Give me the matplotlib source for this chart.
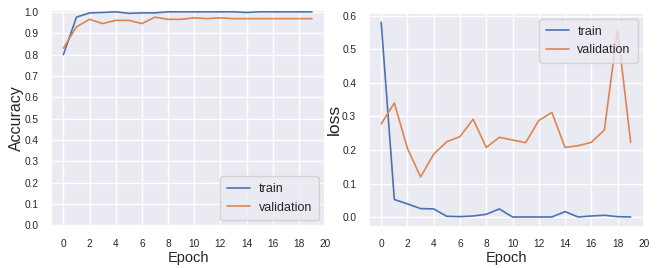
import matplotlib
matplotlib.use("Agg")
import matplotlib.pyplot as plt
import seaborn as sns

sns.set_theme(style="darkgrid")
plt.rcParams['font.family'] = ['Liberation Sans', 'DejaVu Sans']

epochs = list(range(20))
acc_train = [0.80, 0.975, 0.995, 0.997, 1.0, 0.993, 0.995, 0.995, 1.0, 1.0,
             1.0, 1.0, 1.0, 1.0, 0.997, 1.0, 1.0, 1.0, 1.0, 1.0]
acc_val = [0.83, 0.93, 0.965, 0.945, 0.96, 0.96, 0.945, 0.975, 0.965, 0.965,
           0.972, 0.968, 0.972, 0.968, 0.968, 0.968, 0.968, 0.968, 0.968, 0.968]
loss_train = [0.58, 0.053, 0.04, 0.026, 0.025, 0.003, 0.002, 0.004, 0.009, 0.025,
              0.001, 0.001, 0.001, 0.001, 0.017, 0.001, 0.004, 0.006, 0.002, 0.001]
loss_val = [0.278, 0.34, 0.205, 0.12, 0.188, 0.225, 0.24, 0.292, 0.208, 0.238,
            0.23, 0.222, 0.288, 0.312, 0.208, 0.213, 0.223, 0.26, 0.558, 0.223]
labels = ["train", "validation"]
xticks = list(range(0, 21, 2))
acc_yticks = [i / 10 for i in range(11)]

fig = plt.figure(figsize=(6.62, 2.68), dpi=100)

legend_kw = dict(fontsize=9, handlelength=1.8, borderpad=0.55, labelspacing=0.5,
                 handletextpad=0.7)

ax1 = fig.add_axes([0.077, 0.154, 0.414, 0.809])
ax1.plot(epochs, acc_train, label=labels[0], lw=1.2)
ax1.plot(epochs, acc_val, label=labels[1], lw=1.2)
ax1.set_ylim(-0.006, 1.009)
ax1.set_yticks(acc_yticks)
ax1.set_xticks(xticks)
ax1.set_xlabel("Epoch", fontsize=10.5, labelpad=1)
ax1.set_ylabel("Accuracy", fontsize=11.5, labelpad=0)
ax1.tick_params(labelsize=7.3, pad=3)
ax1.legend(loc="lower right", **legend_kw)

ax2 = fig.add_axes([0.557, 0.154, 0.4155, 0.799])
ax2.plot(epochs, loss_train, label=labels[0], lw=1.2)
ax2.plot(epochs, loss_val, label=labels[1], lw=1.2)
ax2.set_xticks(xticks)
ax2.set_xlabel("Epoch", fontsize=10.5, labelpad=1)
ax2.set_ylabel("loss", fontsize=12.5, labelpad=0)
ax2.tick_params(labelsize=7.3, pad=3)
ax2.legend(loc="upper right", **legend_kw)

fig.savefig("out.png", dpi=100)
